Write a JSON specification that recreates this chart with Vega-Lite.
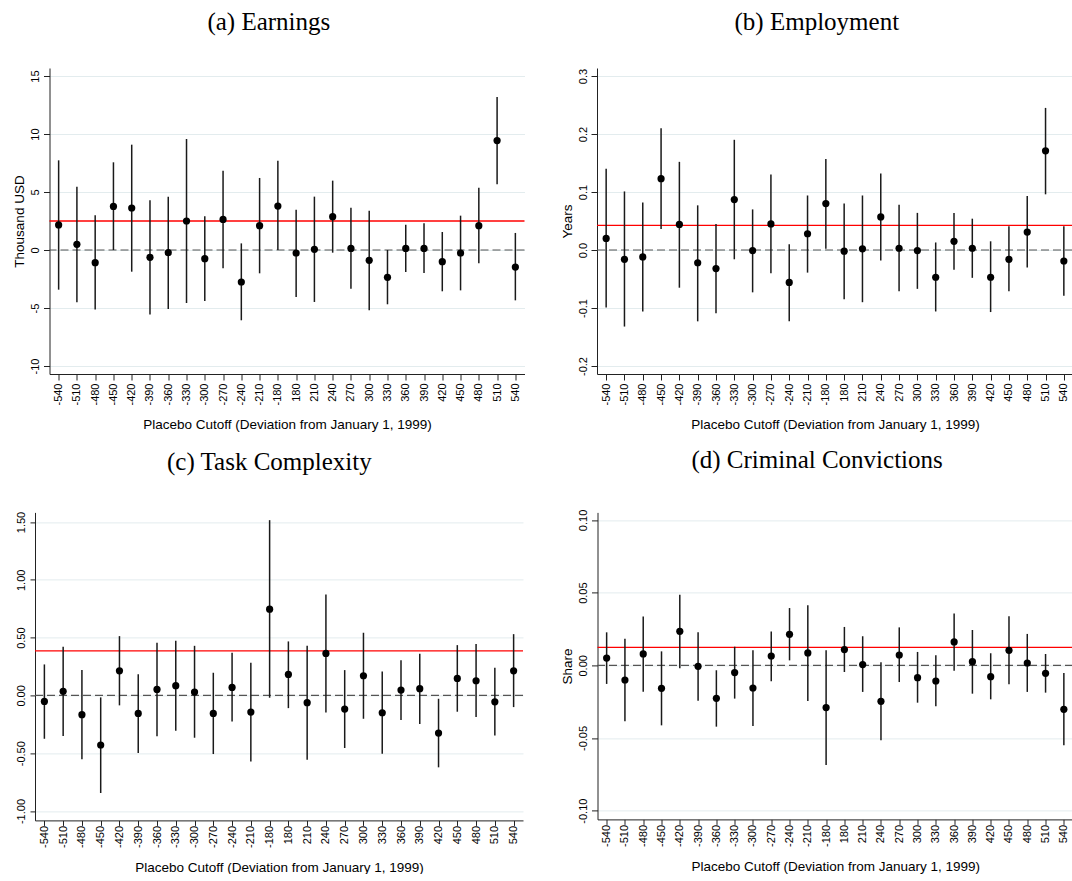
{
  "$schema": "https://vega.github.io/schema/vega-lite/v6.json",
  "padding": {"left": 12, "top": 10, "right": 0, "bottom": 0},
  "autosize": {"type": "pad"},
  "datasets": {
    "est": [
      {"panel": "a", "cutoff": -540, "estimate": 2.16, "lower": -3.42, "upper": 7.73},
      {"panel": "a", "cutoff": -510, "estimate": 0.49, "lower": -4.51, "upper": 5.46},
      {"panel": "a", "cutoff": -480, "estimate": -1.09, "lower": -5.14, "upper": 2.99},
      {"panel": "a", "cutoff": -450, "estimate": 3.76, "lower": 0.0, "upper": 7.56},
      {"panel": "a", "cutoff": -420, "estimate": 3.62, "lower": -1.87, "upper": 9.08},
      {"panel": "a", "cutoff": -390, "estimate": -0.63, "lower": -5.55, "upper": 4.28},
      {"panel": "a", "cutoff": -360, "estimate": -0.23, "lower": -5.09, "upper": 4.6},
      {"panel": "a", "cutoff": -330, "estimate": 2.5, "lower": -4.57, "upper": 9.57},
      {"panel": "a", "cutoff": -300, "estimate": -0.75, "lower": -4.4, "upper": 2.9},
      {"panel": "a", "cutoff": -270, "estimate": 2.64, "lower": -1.58, "upper": 6.84},
      {"panel": "a", "cutoff": -240, "estimate": -2.76, "lower": -6.06, "upper": 0.57},
      {"panel": "a", "cutoff": -210, "estimate": 2.1, "lower": -2.01, "upper": 6.21},
      {"panel": "a", "cutoff": -180, "estimate": 3.79, "lower": 0.0, "upper": 7.7},
      {"panel": "a", "cutoff": 180, "estimate": -0.26, "lower": -4.05, "upper": 3.48},
      {"panel": "a", "cutoff": 210, "estimate": 0.06, "lower": -4.48, "upper": 4.6},
      {"panel": "a", "cutoff": 240, "estimate": 2.87, "lower": -0.23, "upper": 5.98},
      {"panel": "a", "cutoff": 270, "estimate": 0.14, "lower": -3.33, "upper": 3.65},
      {"panel": "a", "cutoff": 300, "estimate": -0.89, "lower": -5.2, "upper": 3.39},
      {"panel": "a", "cutoff": 330, "estimate": -2.36, "lower": -4.68, "upper": 0.0},
      {"panel": "a", "cutoff": 360, "estimate": 0.14, "lower": -1.9, "upper": 2.18},
      {"panel": "a", "cutoff": 390, "estimate": 0.14, "lower": -1.98, "upper": 2.3},
      {"panel": "a", "cutoff": 420, "estimate": -1.01, "lower": -3.56, "upper": 1.55},
      {"panel": "a", "cutoff": 450, "estimate": -0.26, "lower": -3.48, "upper": 2.96},
      {"panel": "a", "cutoff": 480, "estimate": 2.1, "lower": -1.15, "upper": 5.37},
      {"panel": "a", "cutoff": 510, "estimate": 9.43, "lower": 5.66, "upper": 13.19},
      {"panel": "a", "cutoff": 540, "estimate": -1.47, "lower": -4.34, "upper": 1.47},

      {"panel": "b", "cutoff": -540, "estimate": 0.02, "lower": -0.099, "upper": 0.14},
      {"panel": "b", "cutoff": -510, "estimate": -0.016, "lower": -0.132, "upper": 0.101},
      {"panel": "b", "cutoff": -480, "estimate": -0.012, "lower": -0.106, "upper": 0.082},
      {"panel": "b", "cutoff": -450, "estimate": 0.123, "lower": 0.036, "upper": 0.21},
      {"panel": "b", "cutoff": -420, "estimate": 0.044, "lower": -0.065, "upper": 0.152},
      {"panel": "b", "cutoff": -390, "estimate": -0.022, "lower": -0.123, "upper": 0.077},
      {"panel": "b", "cutoff": -360, "estimate": -0.032, "lower": -0.109, "upper": 0.045},
      {"panel": "b", "cutoff": -330, "estimate": 0.087, "lower": -0.016, "upper": 0.19},
      {"panel": "b", "cutoff": -300, "estimate": -0.001, "lower": -0.073, "upper": 0.07},
      {"panel": "b", "cutoff": -270, "estimate": 0.045, "lower": -0.04, "upper": 0.13},
      {"panel": "b", "cutoff": -240, "estimate": -0.056, "lower": -0.123, "upper": 0.01},
      {"panel": "b", "cutoff": -210, "estimate": 0.028, "lower": -0.039, "upper": 0.094},
      {"panel": "b", "cutoff": -180, "estimate": 0.08, "lower": 0.002, "upper": 0.157},
      {"panel": "b", "cutoff": 180, "estimate": -0.002, "lower": -0.085, "upper": 0.08},
      {"panel": "b", "cutoff": 210, "estimate": 0.002, "lower": -0.09, "upper": 0.094},
      {"panel": "b", "cutoff": 240, "estimate": 0.057, "lower": -0.018, "upper": 0.132},
      {"panel": "b", "cutoff": 270, "estimate": 0.003, "lower": -0.071, "upper": 0.078},
      {"panel": "b", "cutoff": 300, "estimate": -0.001, "lower": -0.067, "upper": 0.064},
      {"panel": "b", "cutoff": 330, "estimate": -0.047, "lower": -0.106, "upper": 0.013},
      {"panel": "b", "cutoff": 360, "estimate": 0.015, "lower": -0.034, "upper": 0.064},
      {"panel": "b", "cutoff": 390, "estimate": 0.003, "lower": -0.048, "upper": 0.054},
      {"panel": "b", "cutoff": 420, "estimate": -0.047, "lower": -0.107, "upper": 0.015},
      {"panel": "b", "cutoff": 450, "estimate": -0.016, "lower": -0.071, "upper": 0.041},
      {"panel": "b", "cutoff": 480, "estimate": 0.031, "lower": -0.03, "upper": 0.093},
      {"panel": "b", "cutoff": 510, "estimate": 0.171, "lower": 0.096, "upper": 0.245},
      {"panel": "b", "cutoff": 540, "estimate": -0.019, "lower": -0.079, "upper": 0.041},

      {"panel": "c", "cutoff": -540, "estimate": -0.052, "lower": -0.375, "upper": 0.268},
      {"panel": "c", "cutoff": -510, "estimate": 0.035, "lower": -0.352, "upper": 0.421},
      {"panel": "c", "cutoff": -480, "estimate": -0.167, "lower": -0.553, "upper": 0.219},
      {"panel": "c", "cutoff": -450, "estimate": -0.429, "lower": -0.844, "upper": -0.017},
      {"panel": "c", "cutoff": -420, "estimate": 0.213, "lower": -0.086, "upper": 0.513},
      {"panel": "c", "cutoff": -390, "estimate": -0.156, "lower": -0.499, "upper": 0.184},
      {"panel": "c", "cutoff": -360, "estimate": 0.052, "lower": -0.354, "upper": 0.455},
      {"panel": "c", "cutoff": -330, "estimate": 0.084, "lower": -0.305, "upper": 0.473},
      {"panel": "c", "cutoff": -300, "estimate": 0.029, "lower": -0.366, "upper": 0.429},
      {"panel": "c", "cutoff": -270, "estimate": -0.156, "lower": -0.507, "upper": 0.196},
      {"panel": "c", "cutoff": -240, "estimate": 0.069, "lower": -0.225, "upper": 0.369},
      {"panel": "c", "cutoff": -210, "estimate": -0.144, "lower": -0.571, "upper": 0.282},
      {"panel": "c", "cutoff": -180, "estimate": 0.746, "lower": -0.02, "upper": 1.516},
      {"panel": "c", "cutoff": 180, "estimate": 0.182, "lower": -0.11, "upper": 0.467},
      {"panel": "c", "cutoff": 210, "estimate": -0.063, "lower": -0.556, "upper": 0.429},
      {"panel": "c", "cutoff": 240, "estimate": 0.363, "lower": -0.147, "upper": 0.873},
      {"panel": "c", "cutoff": 270, "estimate": -0.118, "lower": -0.455, "upper": 0.219},
      {"panel": "c", "cutoff": 300, "estimate": 0.17, "lower": -0.202, "upper": 0.542},
      {"panel": "c", "cutoff": 330, "estimate": -0.15, "lower": -0.504, "upper": 0.207},
      {"panel": "c", "cutoff": 360, "estimate": 0.046, "lower": -0.213, "upper": 0.305},
      {"panel": "c", "cutoff": 390, "estimate": 0.058, "lower": -0.248, "upper": 0.36},
      {"panel": "c", "cutoff": 420, "estimate": -0.326, "lower": -0.622, "upper": -0.029},
      {"panel": "c", "cutoff": 450, "estimate": 0.147, "lower": -0.141, "upper": 0.435},
      {"panel": "c", "cutoff": 480, "estimate": 0.127, "lower": -0.187, "upper": 0.444},
      {"panel": "c", "cutoff": 510, "estimate": -0.055, "lower": -0.346, "upper": 0.239},
      {"panel": "c", "cutoff": 540, "estimate": 0.213, "lower": -0.101, "upper": 0.53},

      {"panel": "d", "cutoff": -540, "estimate": 0.005, "lower": -0.0128, "upper": 0.0227},
      {"panel": "d", "cutoff": -510, "estimate": -0.0101, "lower": -0.0385, "upper": 0.0183},
      {"panel": "d", "cutoff": -480, "estimate": 0.0078, "lower": -0.0181, "upper": 0.0335},
      {"panel": "d", "cutoff": -450, "estimate": -0.0158, "lower": -0.0413, "upper": 0.0096},
      {"panel": "d", "cutoff": -420, "estimate": 0.0234, "lower": -0.0021, "upper": 0.0486},
      {"panel": "d", "cutoff": -390, "estimate": -0.0007, "lower": -0.0243, "upper": 0.0227},
      {"panel": "d", "cutoff": -360, "estimate": -0.0227, "lower": -0.0422, "upper": -0.0034},
      {"panel": "d", "cutoff": -330, "estimate": -0.005, "lower": -0.0229, "upper": 0.0128},
      {"panel": "d", "cutoff": -300, "estimate": -0.0156, "lower": -0.0417, "upper": 0.0103},
      {"panel": "d", "cutoff": -270, "estimate": 0.0064, "lower": -0.011, "upper": 0.0232},
      {"panel": "d", "cutoff": -240, "estimate": 0.0213, "lower": 0.0034, "upper": 0.0394},
      {"panel": "d", "cutoff": -210, "estimate": 0.0085, "lower": -0.0245, "upper": 0.0413},
      {"panel": "d", "cutoff": -180, "estimate": -0.0291, "lower": -0.0686, "upper": 0.0103},
      {"panel": "d", "cutoff": 180, "estimate": 0.0108, "lower": -0.0046, "upper": 0.0264},
      {"panel": "d", "cutoff": 210, "estimate": 0.0005, "lower": -0.0183, "upper": 0.02},
      {"panel": "d", "cutoff": 240, "estimate": -0.0248, "lower": -0.0516, "upper": 0.0021},
      {"panel": "d", "cutoff": 270, "estimate": 0.0071, "lower": -0.0115, "upper": 0.0261},
      {"panel": "d", "cutoff": 300, "estimate": -0.0085, "lower": -0.0257, "upper": 0.0092},
      {"panel": "d", "cutoff": 330, "estimate": -0.0108, "lower": -0.0282, "upper": 0.0069},
      {"panel": "d", "cutoff": 360, "estimate": 0.0161, "lower": -0.0037, "upper": 0.0356},
      {"panel": "d", "cutoff": 390, "estimate": 0.0025, "lower": -0.0195, "upper": 0.0243},
      {"panel": "d", "cutoff": 420, "estimate": -0.0078, "lower": -0.0234, "upper": 0.0083},
      {"panel": "d", "cutoff": 450, "estimate": 0.0103, "lower": -0.0131, "upper": 0.0337},
      {"panel": "d", "cutoff": 480, "estimate": 0.0016, "lower": -0.0183, "upper": 0.0216},
      {"panel": "d", "cutoff": 510, "estimate": -0.0055, "lower": -0.0188, "upper": 0.0078},
      {"panel": "d", "cutoff": 540, "estimate": -0.0303, "lower": -0.055, "upper": -0.0053}
    ],
    "ref": [
      {"panel": "a", "value": 2.5},
      {"panel": "b", "value": 0.0425},
      {"panel": "c", "value": 0.386},
      {"panel": "d", "value": 0.0124}
    ],
    "zero": [{"value": 0}]
  },
  "bounds": "flush",
  "spacing": 444.4,
  "vconcat": [
    {
      "bounds": "flush",
      "spacing": 13.5,
      "hconcat": [
        {
          "width": 1,
          "height": 1,
          "data": {"values": []},
          "mark": "point",
          "encoding": {}
        },
        {
          "bounds": "flush",
          "spacing": 72.5,
          "hconcat": [
            {
              "width": 475,
              "height": 306,
              "title": {"text": "(a) Earnings", "offset": 33},
              "layer": [
                {
                  "data": {"name": "zero"},
                  "mark": {"type": "rule", "color": "#555555", "strokeDash": [8, 4], "strokeWidth": 1.2},
                  "encoding": {"y": {"field": "value", "type": "quantitative", "title": "Thousand USD", "scale": {"domain": [-10.69, 15.69], "nice": false, "zero": false}}}
                },
                {
                  "data": {"name": "ref"},
                  "transform": [{"filter": "datum.panel == 'a'"}],
                  "mark": {"type": "rule", "color": "#ff0000", "strokeWidth": 1.3},
                  "encoding": {"y": {"field": "value", "type": "quantitative", "title": "Thousand USD", "scale": {"domain": [-10.69, 15.69], "nice": false, "zero": false}}}
                },
                {
                  "data": {"name": "est"},
                  "transform": [{"filter": "datum.panel == 'a'"}],
                  "mark": {"type": "rule", "color": "#1a1a1a", "strokeWidth": 1.5},
                  "encoding": {
                    "x": {"field": "cutoff", "type": "ordinal", "scale": {"type": "point", "padding": 0.5}, "title": "Placebo Cutoff (Deviation from January 1, 1999)"},
                    "y": {"field": "lower", "type": "quantitative", "title": "Thousand USD", "scale": {"domain": [-10.69, 15.69], "nice": false, "zero": false}},
                    "y2": {"field": "upper"}
                  }
                },
                {
                  "data": {"name": "est"},
                  "transform": [{"filter": "datum.panel == 'a'"}],
                  "mark": {"type": "circle", "size": 52, "color": "#000000", "opacity": 1},
                  "encoding": {
                    "x": {"field": "cutoff", "type": "ordinal", "scale": {"type": "point", "padding": 0.5}, "title": "Placebo Cutoff (Deviation from January 1, 1999)"},
                    "y": {
                      "field": "estimate", "type": "quantitative", "title": "Thousand USD",
                      "scale": {"domain": [-10.69, 15.69], "nice": false, "zero": false},
                      "axis": {"values": [-10, -5, 0, 5, 10, 15], "labelExpr": "datum.value < 0 ? '-' + format(-datum.value, 'd') : format(datum.value, 'd')"}
                    }
                  }
                }
              ]
            },
            {
              "width": 476,
              "height": 306,
              "title": {"text": "(b) Employment", "offset": 33},
              "layer": [
                {
                  "data": {"name": "zero"},
                  "mark": {"type": "rule", "color": "#555555", "strokeDash": [8, 4], "strokeWidth": 1.2},
                  "encoding": {"y": {"field": "value", "type": "quantitative", "title": "Years", "scale": {"domain": [-0.2138, 0.3138], "nice": false, "zero": false}}}
                },
                {
                  "data": {"name": "ref"},
                  "transform": [{"filter": "datum.panel == 'b'"}],
                  "mark": {"type": "rule", "color": "#ff0000", "strokeWidth": 1.3},
                  "encoding": {"y": {"field": "value", "type": "quantitative", "title": "Years", "scale": {"domain": [-0.2138, 0.3138], "nice": false, "zero": false}}}
                },
                {
                  "data": {"name": "est"},
                  "transform": [{"filter": "datum.panel == 'b'"}],
                  "mark": {"type": "rule", "color": "#1a1a1a", "strokeWidth": 1.5},
                  "encoding": {
                    "x": {"field": "cutoff", "type": "ordinal", "scale": {"type": "point", "padding": 0.5}, "title": "Placebo Cutoff (Deviation from January 1, 1999)"},
                    "y": {"field": "lower", "type": "quantitative", "title": "Years", "scale": {"domain": [-0.2138, 0.3138], "nice": false, "zero": false}},
                    "y2": {"field": "upper"}
                  }
                },
                {
                  "data": {"name": "est"},
                  "transform": [{"filter": "datum.panel == 'b'"}],
                  "mark": {"type": "circle", "size": 52, "color": "#000000", "opacity": 1},
                  "encoding": {
                    "x": {"field": "cutoff", "type": "ordinal", "scale": {"type": "point", "padding": 0.5}, "title": "Placebo Cutoff (Deviation from January 1, 1999)"},
                    "y": {
                      "field": "estimate", "type": "quantitative", "title": "Years",
                      "scale": {"domain": [-0.2138, 0.3138], "nice": false, "zero": false},
                      "axis": {"values": [-0.2, -0.1, 0, 0.1, 0.2, 0.3], "labelExpr": "datum.value < 0 ? '-' + format(-datum.value, '.1f') : format(datum.value, '.1f')"}
                    }
                  }
                }
              ]
            }
          ]
        }
      ]
    },
    {
      "bounds": "flush",
      "spacing": 74.5,
      "hconcat": [
        {
          "width": 488,
          "height": 308,
          "title": {"text": "(c) Task Complexity", "offset": 36},
          "layer": [
            {
              "data": {"name": "zero"},
              "mark": {"type": "rule", "color": "#555555", "strokeDash": [8, 4], "strokeWidth": 1.2},
              "encoding": {"y": {"field": "value", "type": "quantitative", "title": null, "scale": {"domain": [-1.081, 1.583], "nice": false, "zero": false}}}
            },
            {
              "data": {"name": "ref"},
              "transform": [{"filter": "datum.panel == 'c'"}],
              "mark": {"type": "rule", "color": "#ff0000", "strokeWidth": 1.3},
              "encoding": {"y": {"field": "value", "type": "quantitative", "title": null, "scale": {"domain": [-1.081, 1.583], "nice": false, "zero": false}}}
            },
            {
              "data": {"name": "est"},
              "transform": [{"filter": "datum.panel == 'c'"}],
              "mark": {"type": "rule", "color": "#1a1a1a", "strokeWidth": 1.5},
              "encoding": {
                "x": {"field": "cutoff", "type": "ordinal", "scale": {"type": "point", "padding": 0.5}, "title": "Placebo Cutoff (Deviation from January 1, 1999)", "axis": {"tickSize": 5, "labelPadding": 0, "titlePadding": 13}},
                "y": {"field": "lower", "type": "quantitative", "title": null, "scale": {"domain": [-1.081, 1.583], "nice": false, "zero": false}},
                "y2": {"field": "upper"}
              }
            },
            {
              "data": {"name": "est"},
              "transform": [{"filter": "datum.panel == 'c'"}],
              "mark": {"type": "circle", "size": 52, "color": "#000000", "opacity": 1},
              "encoding": {
                "x": {"field": "cutoff", "type": "ordinal", "scale": {"type": "point", "padding": 0.5}, "title": "Placebo Cutoff (Deviation from January 1, 1999)", "axis": {"tickSize": 5, "labelPadding": 0, "titlePadding": 13}},
                "y": {
                  "field": "estimate", "type": "quantitative", "title": null,
                  "scale": {"domain": [-1.081, 1.583], "nice": false, "zero": false},
                  "axis": {"values": [-1, -0.5, 0, 0.5, 1, 1.5], "tickSize": 5, "labelPadding": 4, "labelExpr": "datum.value < 0 ? '-' + format(-datum.value, '.2f') : format(datum.value, '.2f')"}
                }
              }
            }
          ]
        },
        {
          "width": 475.5,
          "height": 307,
          "title": {"text": "(d) Criminal Convictions", "offset": 36},
          "layer": [
            {
              "data": {"name": "zero"},
              "mark": {"type": "rule", "color": "#555555", "strokeDash": [8, 4], "strokeWidth": 1.2},
              "encoding": {"y": {"field": "value", "type": "quantitative", "title": "Share", "scale": {"domain": [-0.106, 0.1052], "nice": false, "zero": false}}}
            },
            {
              "data": {"name": "ref"},
              "transform": [{"filter": "datum.panel == 'd'"}],
              "mark": {"type": "rule", "color": "#ff0000", "strokeWidth": 1.3},
              "encoding": {"y": {"field": "value", "type": "quantitative", "title": "Share", "scale": {"domain": [-0.106, 0.1052], "nice": false, "zero": false}}}
            },
            {
              "data": {"name": "est"},
              "transform": [{"filter": "datum.panel == 'd'"}],
              "mark": {"type": "rule", "color": "#1a1a1a", "strokeWidth": 1.5},
              "encoding": {
                "x": {"field": "cutoff", "type": "ordinal", "scale": {"type": "point", "padding": 0.5}, "title": "Placebo Cutoff (Deviation from January 1, 1999)", "axis": {"tickSize": 5, "labelPadding": 0, "titlePadding": 13}},
                "y": {"field": "lower", "type": "quantitative", "title": "Share", "scale": {"domain": [-0.106, 0.1052], "nice": false, "zero": false}},
                "y2": {"field": "upper"}
              }
            },
            {
              "data": {"name": "est"},
              "transform": [{"filter": "datum.panel == 'd'"}],
              "mark": {"type": "circle", "size": 52, "color": "#000000", "opacity": 1},
              "encoding": {
                "x": {"field": "cutoff", "type": "ordinal", "scale": {"type": "point", "padding": 0.5}, "title": "Placebo Cutoff (Deviation from January 1, 1999)", "axis": {"tickSize": 5, "labelPadding": 0, "titlePadding": 13}},
                "y": {
                  "field": "estimate", "type": "quantitative", "title": "Share",
                  "scale": {"domain": [-0.106, 0.1052], "nice": false, "zero": false},
                  "axis": {"values": [-0.1, -0.05, 0, 0.05, 0.1], "labelExpr": "datum.value < 0 ? '-' + format(-datum.value, '.2f') : format(datum.value, '.2f')"}
                }
              }
            }
          ]
        }
      ]
    }
  ],
  "config": {
    "view": {"stroke": null},
    "font": "Liberation Sans",
    "title": {"font": "Liberation Serif", "fontSize": 25, "fontWeight": "normal", "color": "#000000", "anchor": "middle", "frame": "bounds"},
    "axis": {
      "labelFont": "Liberation Sans", "labelFontSize": 11, "labelColor": "#000000",
      "titleFont": "Liberation Sans", "titleFontSize": 13.5, "titleFontWeight": "normal", "titleColor": "#000000",
      "domainColor": "#222222", "tickColor": "#222222", "tickSize": 6, "gridColor": "#e3ecee"
    },
    "axisX": {"labelAngle": -90, "labelAlign": "right", "labelBaseline": "middle", "labelPadding": 3, "titlePadding": 12, "grid": false, "labelOverlap": false, "labelFlush": false},
    "axisY": {"labelAngle": -90, "labelAlign": "center", "labelBaseline": "bottom", "labelPadding": 3, "titlePadding": 3, "grid": true, "labelOverlap": false}
  }
}
